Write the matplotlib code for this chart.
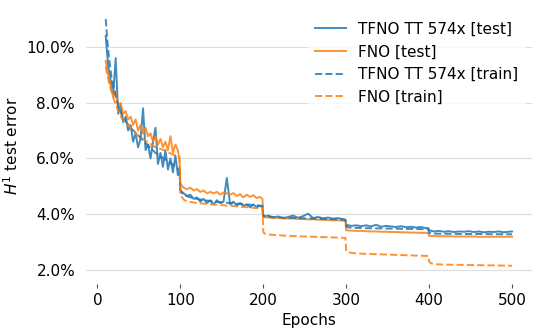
import numpy as np
import matplotlib
matplotlib.use('Agg')
import matplotlib.pyplot as plt
from matplotlib.ticker import FuncFormatter

# epochs for the test curves (logged densely), split at the lr drops
test_epochs = np.concatenate([
    np.arange(10, 98, 3), [99],
    np.arange(100, 197, 4), [199],
    np.arange(200, 297, 6), [299],
    np.arange(300, 397, 6), [399],
    np.arange(400, 497, 6), [500],
])

# epochs for the train curves
train_epochs = [10, 12, 14, 17, 20, 25, 30, 40, 50, 60, 70, 80, 90, 99,
                100, 102, 105, 110, 120, 140, 160, 180, 199,
                200, 202, 205, 210, 220, 240, 260, 280, 299,
                300, 302, 305, 310, 320, 340, 360, 380, 399,
                400, 402, 405, 410, 420, 440, 460, 480, 500]

tfno_test = [
    10.4, 9.3, 8.8, 8.3, 9.6, 7.6, 7.9, 7.3, 7.5, 7.0, 7.2, 6.6, 6.9, 6.4, 6.7, 7.8,
    6.3, 6.5, 6.0, 6.6, 7.1, 5.8, 6.2, 5.7, 6.3, 5.6, 6.0, 5.5, 6.1, 5.4, 5.6,
    4.85, 4.75, 4.65, 4.7, 4.55, 4.6, 4.45, 4.55, 4.4, 4.5, 4.35, 4.5, 4.4, 4.45, 5.3,
    4.35, 4.45, 4.3, 4.4, 4.3, 4.35, 4.25, 4.35, 4.25, 4.3, 4.25,
    3.9, 3.95, 3.88, 3.92, 3.85, 3.9, 3.95, 3.87, 3.93, 4.02, 3.86, 3.9, 3.85, 3.88,
    3.84, 3.86, 3.82, 3.8,
    3.62, 3.58, 3.6, 3.57, 3.6, 3.56, 3.62, 3.55, 3.58, 3.56, 3.54, 3.57, 3.53, 3.55,
    3.52, 3.54, 3.5, 3.5,
    3.42, 3.38, 3.4, 3.37, 3.39, 3.36, 3.38, 3.37, 3.39, 3.36, 3.38, 3.35, 3.37, 3.36,
    3.38, 3.35, 3.37, 3.38,
]

fno_test = [
    9.5, 9.0, 8.6, 8.2, 8.4, 7.9, 8.0, 7.6, 7.7, 7.4, 7.5, 7.2, 7.4, 7.0, 7.2, 6.9,
    7.1, 6.8, 6.9, 6.6, 6.8, 6.5, 6.7, 6.4, 6.6, 6.3, 6.8, 6.2, 6.5, 6.3, 5.9,
    5.1, 4.95, 4.9, 4.95, 4.85, 4.9, 4.8, 4.85, 4.75, 4.8, 4.75, 4.8, 4.7, 4.78, 4.75,
    4.7, 4.76, 4.65, 4.72, 4.6, 4.7, 4.62, 4.68, 4.58, 4.62, 4.55,
    3.9, 3.88, 3.86, 3.87, 3.85, 3.84, 3.85, 3.82, 3.83, 3.81, 3.82, 3.8, 3.8, 3.79,
    3.78, 3.78, 3.77, 3.76,
    3.42, 3.41, 3.4, 3.4, 3.39, 3.38, 3.38, 3.37, 3.37, 3.36, 3.36, 3.35, 3.35, 3.34,
    3.34, 3.33, 3.33, 3.32,
    3.22, 3.22, 3.21, 3.21, 3.21, 3.2, 3.2, 3.2, 3.2, 3.2, 3.19, 3.19, 3.19, 3.19,
    3.19, 3.19, 3.19, 3.19,
]

tfno_train = [
    11.0, 10.2, 9.6, 8.9, 8.5, 7.9, 7.5, 7.1, 6.8, 6.5, 6.2, 6.0, 5.8, 5.6,
    4.85, 4.75, 4.7, 4.62, 4.55, 4.45, 4.4, 4.35, 4.3,
    3.95, 3.93, 3.92, 3.9, 3.88, 3.86, 3.84, 3.82, 3.8,
    3.55, 3.53, 3.52, 3.51, 3.5, 3.49, 3.48, 3.47, 3.46,
    3.33, 3.32, 3.31, 3.3, 3.3, 3.29, 3.29, 3.28, 3.28,
]

fno_train = [
    9.3, 9.0, 8.7, 8.4, 8.1, 7.7, 7.4, 7.1, 6.8, 6.6, 6.4, 6.3, 6.15, 6.05,
    4.7, 4.6, 4.5, 4.45, 4.4, 4.35, 4.3, 4.25, 4.2,
    3.35, 3.3, 3.28, 3.26, 3.24, 3.21, 3.19, 3.17, 3.15,
    2.68, 2.65, 2.62, 2.6, 2.58, 2.56, 2.54, 2.52, 2.5,
    2.3, 2.24, 2.22, 2.2, 2.19, 2.18, 2.17, 2.16, 2.15,
]

blue = '#1f77b4'
orange = '#ff7f0e'

fig = plt.figure(figsize=(5.39, 3.32), dpi=100)
ax = fig.add_axes([0.16, 0.145, 0.827, 0.831])

ax.plot(test_epochs, tfno_test, color=blue, lw=1.4, alpha=0.85, label='TFNO TT 574x [test]')
ax.plot(test_epochs, fno_test, color=orange, lw=1.4, alpha=0.85, label='FNO [test]')
ax.plot(train_epochs, tfno_train, color=blue, lw=1.4, alpha=0.85, ls='--', label='TFNO TT 574x [train]')
ax.plot(train_epochs, fno_train, color=orange, lw=1.4, alpha=0.85, ls='--', label='FNO [train]')

ax.set_xlim(-13.5, 524)
ax.set_ylim(1.5, 11.4)
ax.set_xticks([0, 100, 200, 300, 400, 500])
ax.set_yticks([2, 4, 6, 8, 10])
ax.yaxis.set_major_formatter(FuncFormatter(lambda v, p: '%.1f%%' % v))

for s in ax.spines.values():
    s.set_visible(False)
ax.grid(True, axis='y', color='#dddddd', lw=0.8)
ax.set_axisbelow(True)
ax.tick_params(axis='y', length=0, labelsize=11, pad=8)
ax.tick_params(axis='x', length=3, color='#555555', labelsize=11)

ax.set_xlabel('Epochs', fontsize=11)
ax.set_ylabel('$H^1$ test error', fontsize=11)

leg = ax.legend(loc='upper right', fontsize=11, frameon=True, fancybox=False,
                framealpha=0.8, borderaxespad=0.5, handlelength=2.0)
leg.get_frame().set_facecolor('white')
leg.get_frame().set_edgecolor('white')

fig.savefig('out.png', dpi=100)
